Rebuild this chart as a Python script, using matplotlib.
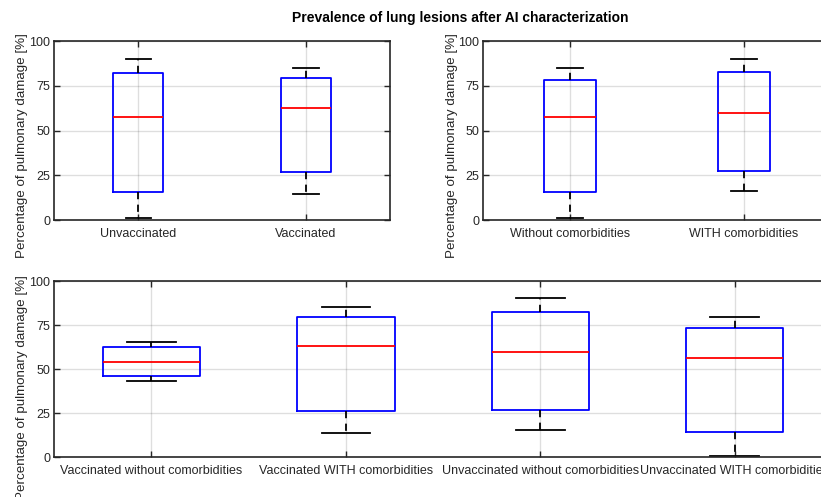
import matplotlib
matplotlib.use("Agg")
import matplotlib.pyplot as plt

plt.rcParams['font.family'] = ['Liberation Sans', 'DejaVu Sans']

# top-left: vaccination status
vac_labels = ['Unvaccinated', 'Vaccinated']
vac_whislo = [1, 14.5]
vac_q1 = [15.5, 26.7]
vac_med = [57.8, 62.8]
vac_q3 = [82.5, 79.5]
vac_whishi = [90, 85]

# top-right: comorbidities
com_labels = ['Without comorbidities', 'WITH comorbidities']
com_whislo = [1, 16.3]
com_q1 = [15.5, 27.2]
com_med = [57.8, 59.7]
com_q3 = [78.3, 83]
com_whishi = [85, 90]

# bottom: combined groups
grp_labels = ['Vaccinated without comorbidities', 'Vaccinated WITH comorbidities',
              'Unvaccinated without comorbidities', 'Unvaccinated WITH comorbidities']
grp_whislo = [43.3, 13.8, 15.7, 1]
grp_q1 = [46, 26, 26.6, 14.6]
grp_med = [54.3, 63, 59.5, 56.2]
grp_q3 = [62.5, 79.4, 82.6, 73.5]
grp_whishi = [65.3, 85.2, 90.4, 79.3]

grey = (0.15, 0.15, 0.15)
ylab = 'Percentage of pulmonary damage [%]'


def make_stats(labels, lo, q1, med, q3, hi):
    return [dict(label=l, whislo=a, q1=b, med=c, q3=d, whishi=e, fliers=[])
            for l, a, b, c, d, e in zip(labels, lo, q1, med, q3, hi)]


def draw(ax, stats, width):
    ax.bxp(stats, widths=width, capwidths=width / 2, showfliers=False,
           boxprops=dict(color='blue', linewidth=1.3),
           medianprops=dict(color='red', linewidth=1.3),
           whiskerprops=dict(color='black', linewidth=1.3, linestyle=(0, (4, 3))),
           capprops=dict(color='black', linewidth=1.3))
    ax.set_ylim(0, 100)
    ax.set_xlim(0.5, len(stats) + 0.5)
    ax.set_yticks([0, 25, 50, 75, 100])
    ax.grid(True, color=grey, alpha=0.15, linewidth=1)
    ax.set_axisbelow(True)
    ax.tick_params(direction='in', length=4, width=1, color=grey, labelcolor=grey,
                   labelsize=9, top=True, right=True, pad=5.5)
    ax.tick_params(axis='y', pad=3)
    for s in ax.spines.values():
        s.set_color(grey)
        s.set_linewidth(1.2)


fig = plt.figure(figsize=(8.21, 4.97), dpi=100)

ax1 = fig.add_axes([0.0661, 0.5573, 0.4089, 0.3596])
draw(ax1, make_stats(vac_labels, vac_whislo, vac_q1, vac_med, vac_q3, vac_whishi), 0.3)
ax2 = fig.add_axes([0.5889, 0.5573, 0.423, 0.3596])
draw(ax2, make_stats(com_labels, com_whislo, com_q1, com_med, com_q3, com_whishi), 0.3)
ax3 = fig.add_axes([0.0661, 0.0799, 0.9473, 0.3547])
draw(ax3, make_stats(grp_labels, grp_whislo, grp_q1, grp_med, grp_q3, grp_whishi), 0.5)

# y labels placed from their top edge, as in the reference
for x, y in [(22, 33), (452, 33), (22, 275)]:
    fig.text(x / 821, 1 - y / 497, ylab, rotation=90, va='top', ha='center',
             fontsize=9.6, color=grey)

fig.text(460 / 821, 1 - 18 / 497, 'Prevalence of lung lesions after AI characterization',
         ha='center', va='center', fontsize=10, fontweight='bold')

fig.savefig('out.png', dpi=100)
